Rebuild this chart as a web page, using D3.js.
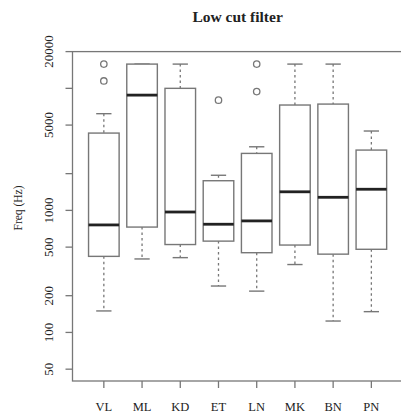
<!DOCTYPE html>
<html>
<head>
<meta charset="utf-8">
<script src="https://cdn.jsdelivr.net/npm/d3@7"></script>
<style>
  body { margin: 0; background: #fff; }
  text { font-family: "Liberation Serif", "DejaVu Serif", serif; fill: #222; }
</style>
</head>
<body>
<div id="chart"></div>
<script>
// box statistics (Hz)
const groups = ['VL', 'ML', 'KD', 'ET', 'LN', 'MK', 'BN', 'PN'];
const whiskerLow = [150, 400, 410, 240, 218, 360, 124, 148];
const q1 = [420, 730, 525, 560, 450, 520, 438, 480];
const median = [760, 8800, 970, 770, 820, 1420, 1280, 1490];
const q3 = [4300, 15800, 10000, 1750, 2930, 7300, 7430, 3120];
const whiskerHigh = [6200, 15800, 15800, 1940, 3320, 15800, 15800, 4470];
const outliers = [[11500, 15800], [], [], [8000], [9400, 15800], [], [], []];
const yTicks = [50, 100, 200, 500, 1000, 2000, 5000, 10000, 20000];
const yTickLabels = ['50', '100', '200', '500', '1000', '', '5000', '', '20000'];

const width = 401;
const height = 412;
const grey = '#777';

const svg = d3.select('#chart')
    .append('svg')
    .attr('width', width)
    .attr('height', height);

// R style: positions 1..n, xlim extended 4%
const x = d3.scaleLinear()
    .domain([0.18, 8.82])
    .range([72.5, 402.7]);

const y = d3.scaleLog()
    .domain([40, 20000])
    .range([381, 51.6]);

const boxW = (x(1) - x(0)) * 0.8;
const capW = boxW * 0.5;

// frame (right side falls off the canvas)
svg.append('rect')
    .attr('x', x.range()[0])
    .attr('y', y.range()[1])
    .attr('width', x.range()[1] - x.range()[0])
    .attr('height', y.range()[0] - y.range()[1])
    .attr('fill', 'none')
    .attr('stroke', grey)
    .attr('stroke-width', 1.3);

// y axis
const yAxis = svg.append('g');
yAxis.selectAll('line')
    .data(yTicks)
    .join('line')
    .attr('x1', x.range()[0] - 7)
    .attr('x2', x.range()[0])
    .attr('y1', d => y(d))
    .attr('y2', d => y(d))
    .attr('stroke', grey)
    .attr('stroke-width', 1.3);
yAxis.selectAll('text')
    .data(yTicks)
    .join('text')
    .attr('transform', d => `translate(53,${y(d)}) rotate(-90)`)
    .attr('text-anchor', 'middle')
    .style('font-size', '13px')
    .text((d, i) => yTickLabels[i]);

// x axis
const xAxis = svg.append('g');
xAxis.selectAll('line')
    .data(groups)
    .join('line')
    .attr('x1', (d, i) => x(i + 1))
    .attr('x2', (d, i) => x(i + 1))
    .attr('y1', y.range()[0])
    .attr('y2', y.range()[0] + 7)
    .attr('stroke', grey)
    .attr('stroke-width', 1.3);
xAxis.selectAll('text')
    .data(groups)
    .join('text')
    .attr('x', (d, i) => x(i + 1))
    .attr('y', 410.5)
    .attr('text-anchor', 'middle')
    .style('font-size', '12.5px')
    .text(d => d);

// boxes
const boxes = svg.append('g')
    .selectAll('g')
    .data(groups)
    .join('g');

// whiskers
boxes.append('line')
    .attr('x1', (d, i) => x(i + 1))
    .attr('x2', (d, i) => x(i + 1))
    .attr('y1', (d, i) => y(whiskerHigh[i]))
    .attr('y2', (d, i) => y(q3[i]))
    .attr('stroke', grey)
    .attr('stroke-width', 1.3)
    .attr('stroke-dasharray', '2.5,3');
boxes.append('line')
    .attr('x1', (d, i) => x(i + 1))
    .attr('x2', (d, i) => x(i + 1))
    .attr('y1', (d, i) => y(q1[i]))
    .attr('y2', (d, i) => y(whiskerLow[i]))
    .attr('stroke', grey)
    .attr('stroke-width', 1.3)
    .attr('stroke-dasharray', '2.5,3');

// caps
[whiskerHigh, whiskerLow].forEach(arr => {
    boxes.append('line')
        .attr('x1', (d, i) => x(i + 1) - capW / 2)
        .attr('x2', (d, i) => x(i + 1) + capW / 2)
        .attr('y1', (d, i) => y(arr[i]))
        .attr('y2', (d, i) => y(arr[i]))
        .attr('stroke', grey)
        .attr('stroke-width', 1.4);
});

boxes.append('rect')
    .attr('x', (d, i) => x(i + 1) - boxW / 2)
    .attr('y', (d, i) => y(q3[i]))
    .attr('width', boxW)
    .attr('height', (d, i) => y(q1[i]) - y(q3[i]))
    .attr('fill', '#fff')
    .attr('stroke', grey)
    .attr('stroke-width', 1.4);

boxes.append('line')
    .attr('x1', (d, i) => x(i + 1) - boxW / 2)
    .attr('x2', (d, i) => x(i + 1) + boxW / 2)
    .attr('y1', (d, i) => y(median[i]))
    .attr('y2', (d, i) => y(median[i]))
    .attr('stroke', '#222')
    .attr('stroke-width', 2.8);

// outliers
boxes.each(function(d, i) {
    d3.select(this).selectAll('circle')
        .data(outliers[i])
        .join('circle')
        .attr('cx', x(i + 1))
        .attr('cy', v => y(v))
        .attr('r', 3.2)
        .attr('fill', 'none')
        .attr('stroke', grey)
        .attr('stroke-width', 1.3);
});

// title and y label
svg.append('text')
    .attr('x', (x.range()[0] + x.range()[1]) / 2)
    .attr('y', 22)
    .attr('text-anchor', 'middle')
    .style('font-size', '15.5px')
    .style('font-weight', 'bold')
    .text('Low cut filter');

svg.append('text')
    .attr('transform', 'translate(21.5,208) rotate(-90)')
    .attr('text-anchor', 'middle')
    .style('font-size', '11.5px')
    .text('Freq (Hz)');
</script>
</body>
</html>
